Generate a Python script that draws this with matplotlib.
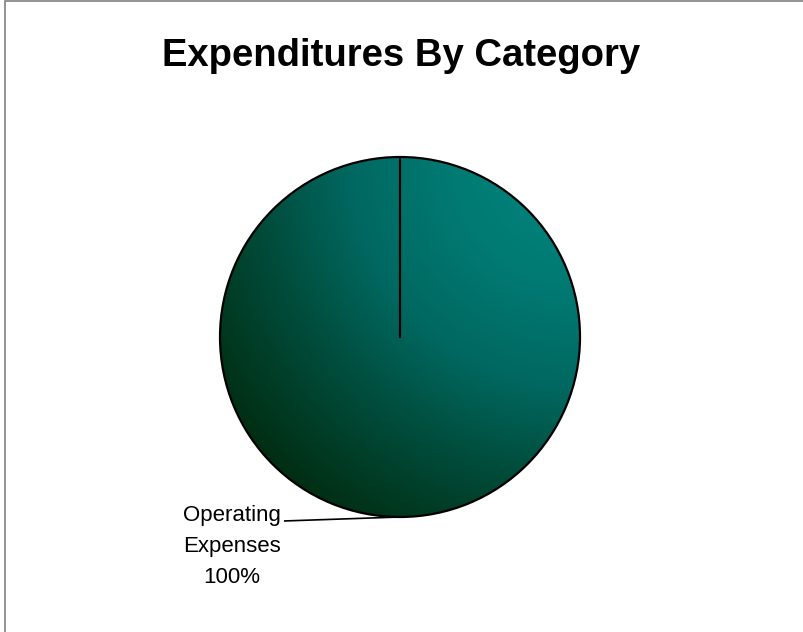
import numpy as np
import matplotlib
matplotlib.use('Agg')
import matplotlib.pyplot as plt
from matplotlib.colors import LinearSegmentedColormap
from matplotlib.patches import Rectangle

categories = ['Operating Expenses']
values = [100.0]
title = 'Expenditures By Category'

plt.rcParams['font.family'] = ['Liberation Sans', 'DejaVu Sans']

fig = plt.figure(figsize=(8.04, 6.32), dpi=100)
fig.patch.set_facecolor('white')

# outer frame (only left/top visible in the original)
fig.patches.append(Rectangle((5 / 804, -0.05), 1.2, 1.05 - 1 / 632, transform=fig.transFigure,
                             fill=False, edgecolor='#808080', linewidth=1.2))

fig.text(0.499, 1 - 56 / 632, title, ha='center', va='center', fontsize=27.5, fontweight='bold')

ax = fig.add_axes([220 / 804, (632 - 517) / 632, 360 / 804, 360 / 632])

start = 90
wedges, _ = ax.pie(values, startangle=start, counterclock=True, radius=1,
                   colors=['none'], wedgeprops=dict(edgecolor='black', linewidth=1.6))
ax.set_xlim(-1, 1)
ax.set_ylim(-1, 1)
ax.set_aspect('equal')
ax.axis('off')

# gradient fill: lighter teal at top right, dark green towards bottom left
cmap = LinearSegmentedColormap.from_list('grad', [(0.0, '#00877F'), (0.3, '#007A73'),
                                                  (0.53, '#006860'), (0.75, '#004B3A'),
                                                  (1.0, '#002E12')])
gx, gy = np.meshgrid(np.linspace(-1, 1, 400), np.linspace(-1, 1, 400))
dist = np.hypot(gx - 1, gy - 1) / (np.sqrt(2) + 1)
for w in wedges:
    im = ax.imshow(np.clip(dist, 0, 1), extent=[-1, 1, -1, 1], origin='lower', cmap=cmap,
                   vmin=0, vmax=1, zorder=0.5, interpolation='bilinear')
    im.set_clip_path(w)
    w.set_zorder(1)

# slice boundary from center along start angle
a = np.radians(start)
ax.plot([0, np.cos(a)], [0, np.sin(a)], color='black', linewidth=1.6, zorder=2)

# label with leader line
total = sum(values)
angle = start
for name, v in zip(categories, values):
    frac = v / total
    mid = np.radians(angle + 360 * frac / 2)
    angle += 360 * frac
    px, py = np.cos(mid), np.sin(mid)
    ax.plot([px, -0.64], [py, -1.022], color='black', linewidth=1.2, clip_on=False, zorder=2)
    ax.text(-0.935, -1.165, name.replace(' ', '\n') + '\n{:.0f}%'.format(frac * 100),
            ha='center', va='center', fontsize=16, linespacing=1.62, clip_on=False)

fig.savefig('out.png', dpi=100)
